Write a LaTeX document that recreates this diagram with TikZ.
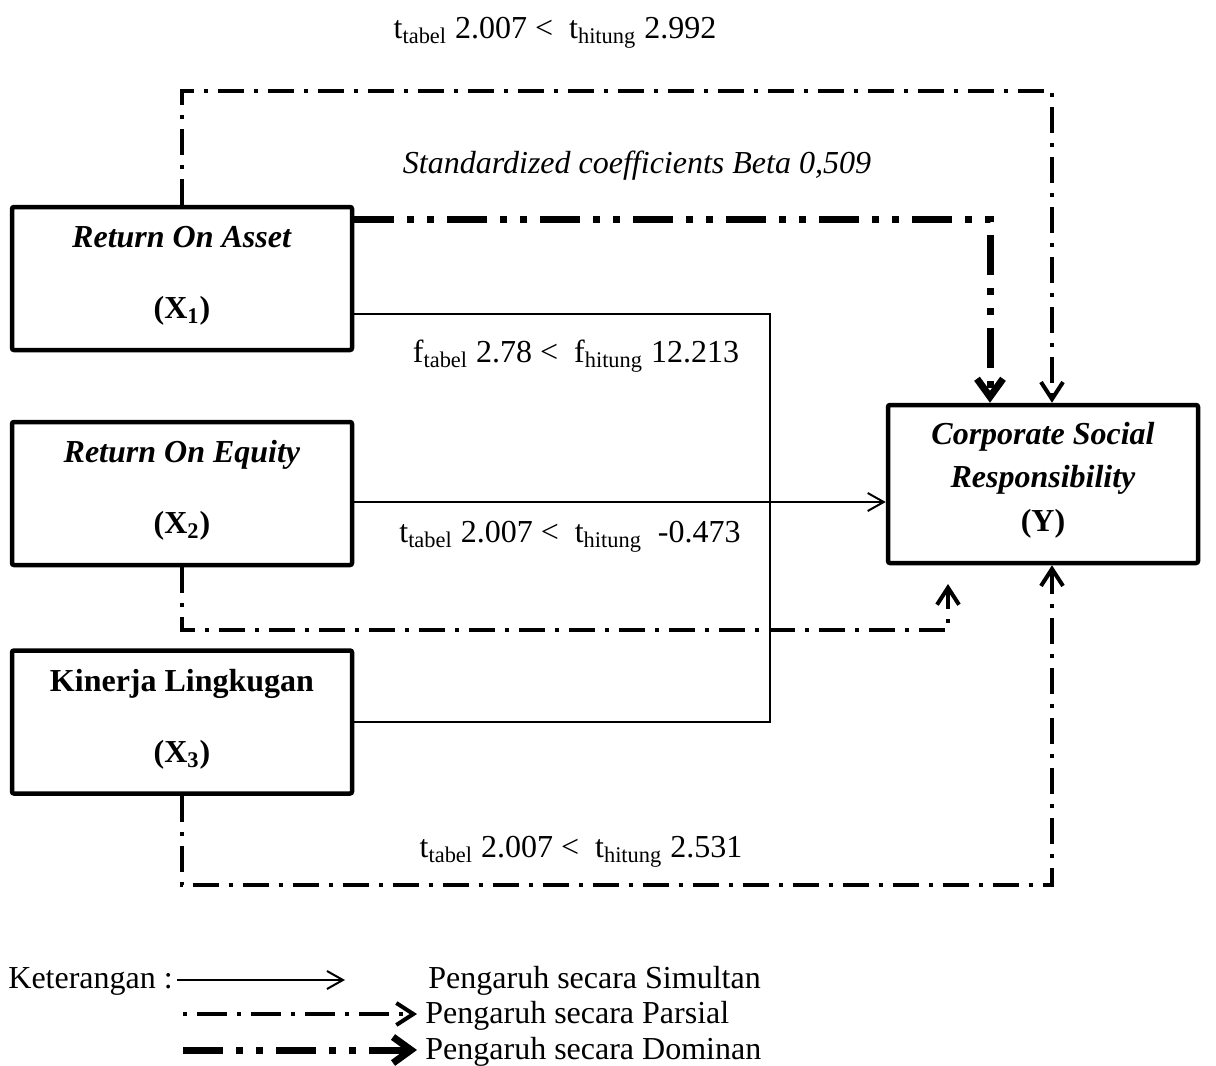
\documentclass[tikz,border=0pt]{standalone}
\usepackage{fontspec}
\setmainfont{Liberation Serif}
\usetikzlibrary{arrows.meta}
\tikzset{
  every node/.style={font=\fontsize{16}{19}\selectfont},
  box/.style={draw, line width=2.25pt, minimum width=170pt, minimum height=71.5pt, inner sep=0pt, rounded corners=1pt},
  ybox/.style={box, minimum width=155pt, minimum height=79pt},
  lbl/.style={anchor=base, inner sep=0pt},
  lblw/.style={anchor=base west, inner sep=0pt},
  simul/.style={line width=1pt},
  simtip/.style={-{Straight Barb[length=8pt,width=9pt]}},
  parsial/.style={line width=2pt, dash pattern=on 13pt off 5pt on 2pt off 5pt},
  partip/.style={-{Straight Barb[length=8.5pt,width=11pt]}},
  dominan/.style={line width=3.5pt, dash pattern=on 20pt off 6.5pt on 3.5pt off 6.5pt on 3.5pt off 6.5pt},
  domtip/.style={-{Straight Barb[length=9pt,width=13pt]}},
}
\begin{document}
\begin{tikzpicture}[x=0.5pt,y=-0.5pt]
\useasboundingbox (0,0) rectangle (1216,1066);

% boxes
\node[box] (X1) at (182,278.5) {};
\node[box] (X2) at (182,493.5) {};
\node[box] (X3) at (182,722) {};
\node[ybox] (Y) at (1043,484) {};

% box texts
\node[lbl] (X1a) at ([yshift=-21.5pt]X1.north) {\textbf{\textit{Return On Asset}}};
\node[lbl] (X1b) at ([yshift=-57pt]X1.north) {\textbf{(X\textsubscript{1})}};
\node[lbl] (X2a) at ([yshift=-21.5pt]X2.north) {\textbf{\textit{Return On Equity}}};
\node[lbl] (X2b) at ([yshift=-57pt]X2.north) {\textbf{(X\textsubscript{2})}};
\node[lbl] (X3a) at ([yshift=-21.5pt]X3.north) {\textbf{Kinerja Lingkugan}};
\node[lbl] (X3b) at ([yshift=-57pt]X3.north) {\textbf{(X\textsubscript{3})}};
\node[lbl] (Ya) at ([yshift=-21pt]Y.north) {\textbf{\textit{Corporate Social}}};
\node[lbl] (Yb) at ([yshift=-42.5pt]Y.north) {\textbf{\textit{Responsibility}}};
\node[lbl] (Yc) at ([yshift=-64.5pt]Y.north) {\textbf{(Y)}};

% labels
\node[lbl] (tTop) at (555,38) {t\textsubscript{tabel} 2.007 <\ \ t\textsubscript{hitung} 2.992};
\node[lbl] (beta) at (637,173) {\textit{Standardized coefficients Beta 0,509}};
\node[lbl] (fLab) at (576,362) {f\textsubscript{tabel} 2.78 <\ \ f\textsubscript{hitung} 12.213};
\node[lbl] (tMid) at (570,542) {t\textsubscript{tabel} 2.007 <\ \ t\textsubscript{hitung}\ \ -0.473};
\node[lbl] (tBot) at (581,857) {t\textsubscript{tabel} 2.007 <\ \ t\textsubscript{hitung} 2.531};

% coordinates
\coordinate (pTR) at (1052,91);
\coordinate (J) at (770,722);
\coordinate (p2) at (948,630);
\coordinate (p2t) at (948,584);
\coordinate (p3) at (1052,885);

% partial X1 -> Y (top)
\draw[parsial,partip] (X1.north) |- (pTR) -- (pTR |- Y.north);
% dominant X1 -> Y
\draw[dominan,domtip] ([yshift=-7.5pt]X1.north east) -| ([xshift=-26.5pt]Y.north);
% simultaneous
\draw[simul] ([yshift=-17.75pt]X1.east) -| (J) -- (X3.east);
\draw[simul,simtip] ([yshift=-4.25pt]X2.east) -- ([yshift=-4.25pt]X2.east -| Y.west);
% partial X2 -> Y
\draw[parsial,partip] (X2.south) |- (p2) -- (p2t);
% partial X3 -> Y
\draw[parsial,partip] (X3.south) |- (p3) -- (p3 |- Y.south);

% legend
\node[lblw] (ket) at (8,988) {Keterangan :};
\node[lblw] (L1) at (428,988) {Pengaruh secara Simultan};
\node[lblw] (L2) at (425,1023) {Pengaruh secara Parsial};
\node[lblw] (L3) at (425,1059) {Pengaruh secara Dominan};
\coordinate (l1s) at (177,980);
\coordinate (l1e) at (345,980);
\coordinate (l2s) at (183,1014);
\coordinate (l2e) at (417,1014);
\coordinate (l3s) at (183,1050);
\coordinate (l3e) at (417,1050);
\draw[simul,simtip] (l1s) -- (l1e);
\draw[parsial,partip,dash pattern=on 2pt off 5pt on 15pt off 5pt] (l2s) -- (l2e);
\draw[dominan,domtip] (l3s) -- (l3e);
\end{tikzpicture}
\end{document}
